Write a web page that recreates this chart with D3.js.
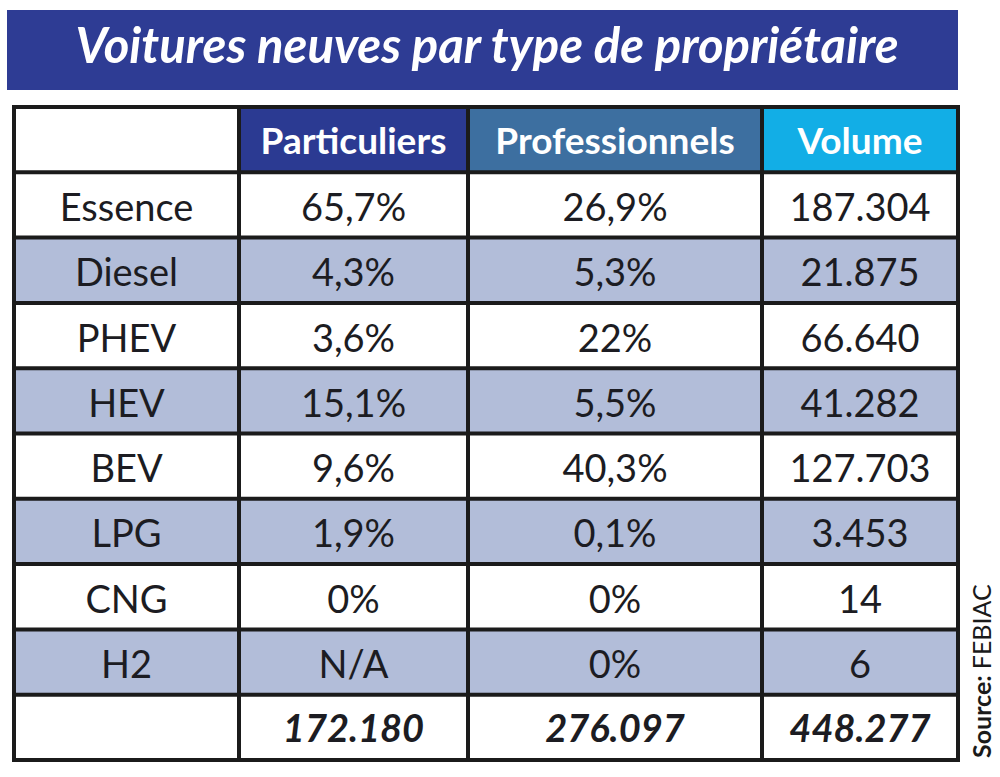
<!DOCTYPE html>
<html><head><meta charset="utf-8">
<script src="https://cdn.jsdelivr.net/npm/d3@7"></script>
<style>html,body{margin:0;padding:0;background:#fff;}</style>
</head><body>
<svg id="c" width="1000" height="777"></svg>
<script>
const title = "Voitures neuves par type de propriétaire";
const headers = ["Particuliers", "Professionnels", "Volume"];
const categories = ["Essence", "Diesel", "PHEV", "HEV", "BEV", "LPG", "CNG", "H2"];
const particuliers = ["65,7%", "4,3%", "3,6%", "15,1%", "9,6%", "1,9%", "0%", "N/A"];
const professionnels = ["26,9%", "5,3%", "22%", "5,5%", "40,3%", "0,1%", "0%", "0%"];
const volume = ["187.304", "21.875", "66.640", "41.282", "127.703", "3.453", "14", "6"];
const totals = ["", "172.180", "276.097", "448.277"];
const source = "FEBIAC";

const svg = d3.select("#c");
const FONT = "Lato, 'Open Sans', sans-serif";
const colEdges = [14, 239, 468, 762, 958];
const headerFills = ["#ffffff", "#2b3a92", "#3d6fa0", "#12aee6"];
const altFill = "#b2bdd9";
const textCol = "#1c1c22";

// title
svg.append("rect").attr("x", 7).attr("y", 10).attr("width", 951).attr("height", 80).attr("fill", "#2e3c94");
svg.append("text").attr("x", 487).attr("y", 63).attr("text-anchor", "middle")
  .attr("font-family", FONT).attr("font-size", 49).attr("font-weight", 700).attr("font-style", "italic")
  .attr("fill", "#fff").text(title);

const nRows = categories.length + 2;
const y = d3.scaleBand().domain(d3.range(nRows)).range([107, 760]).padding(0);

const rows = [["", ...headers]];
categories.forEach((c, i) => rows.push([c, particuliers[i], professionnels[i], volume[i]]));
rows.push(totals);

rows.forEach((row, r) => {
  row.forEach((val, c) => {
    const x0 = colEdges[c], x1 = colEdges[c + 1];
    let fill;
    if (r === 0) fill = headerFills[c];
    else if (r === nRows - 1) fill = "#fff";
    else fill = (r % 2 === 0) ? altFill : "#fff";
    svg.append("rect").attr("x", x0).attr("y", y(r)).attr("width", x1 - x0).attr("height", y.bandwidth()).attr("fill", fill);
    if (val !== "") {
      const t = svg.append("text").attr("x", (x0 + x1) / 2)
        .attr("text-anchor", "middle").attr("font-family", FONT).text(val);
      const cy = y(r) + y.bandwidth() / 2;
      if (r === 0) t.attr("y", cy + 14).attr("font-size", 37).attr("font-weight", 700).attr("fill", "#fff");
      else if (r === nRows - 1) t.attr("y", cy + 15).attr("font-size", 38).attr("font-weight", 700).attr("font-style", "italic").attr("fill", textCol);
      else t.attr("y", cy + 16).attr("font-size", 38).attr("fill", textCol);
    }
  });
});

// grid lines
const lineCol = "#1b1b1b";
d3.range(nRows + 1).forEach(r => {
  const yy = r === nRows ? y.range()[1] : y(r);
  svg.append("line").attr("x1", colEdges[0] - 2).attr("x2", colEdges[4] + 2).attr("y1", yy).attr("y2", yy)
    .attr("stroke", lineCol).attr("stroke-width", 4);
});
colEdges.forEach(x => {
  svg.append("line").attr("x1", x).attr("x2", x).attr("y1", 105).attr("y2", 762)
    .attr("stroke", lineCol).attr("stroke-width", 4);
});

// source
const st = svg.append("text").attr("transform", "translate(991,758) rotate(-90)")
  .attr("font-family", FONT).attr("font-size", 25).attr("fill", "#1a1a1a");
st.append("tspan").attr("font-weight", 700).text("Source: ");
st.append("tspan").text(source);
</script>
</body></html>
